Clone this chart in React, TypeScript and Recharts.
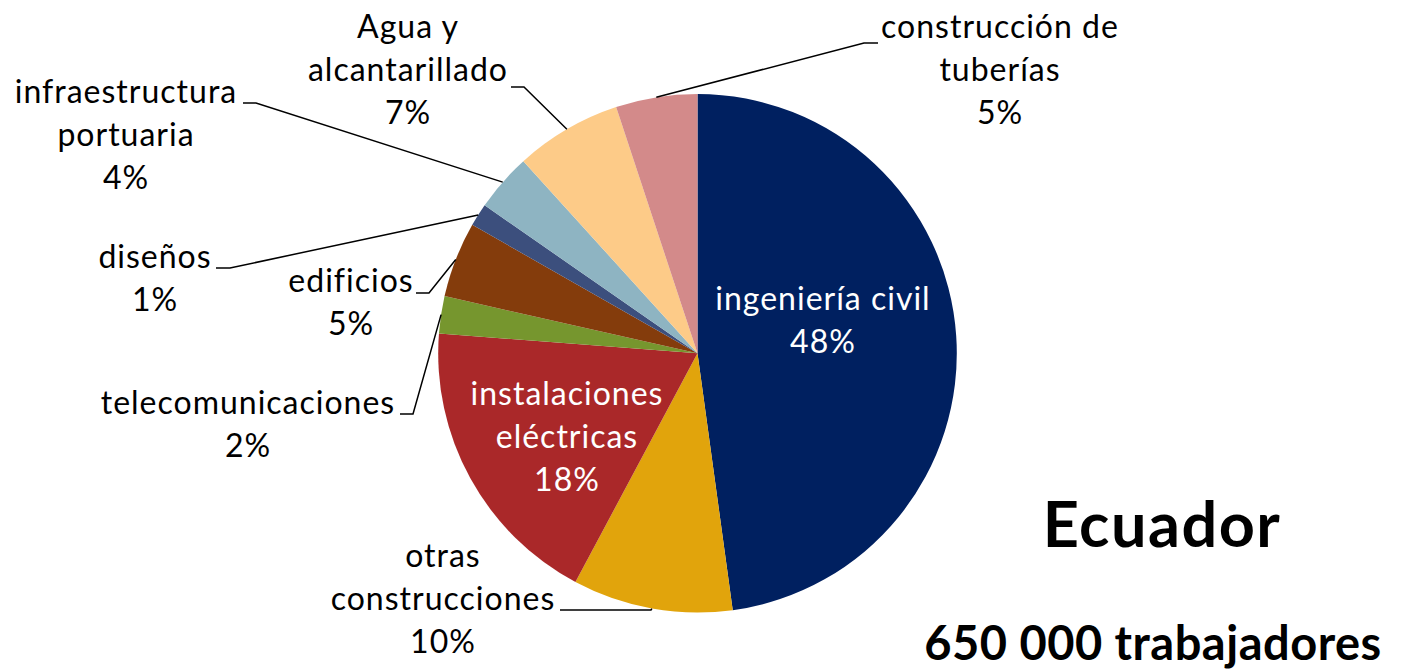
import { PieChart, Pie, Cell } from "recharts";

// sectors, clockwise from 12 o'clock
const sectors = [
  "ingeniería civil",
  "otras\nconstrucciones",
  "instalaciones\neléctricas",
  "telecomunicaciones",
  "edificios",
  "diseños",
  "infraestructura\nportuaria",
  "Agua y\nalcantarillado",
  "construcción de\ntuberías",
];
// share of workers, %
const shares = [47.83, 9.97, 18.42, 2.32, 4.71, 1.42, 3.61, 6.64, 5.08];
const colors = [
  "#002060",
  "#E1A40C",
  "#AA2829",
  "#76962E",
  "#843C0C",
  "#3C4F7D",
  "#8EB4C2",
  "#FDCB88",
  "#D38A8A",
];
const country = "Ecuador";
const workers = "650 000 trabajadores";

const data = sectors.map((name, i) => ({ name, value: shares[i] }));

// where each label sits (text centre, first baseline) and the leader elbow
type LabelPos = {
  x: number;
  y: number;
  inside?: boolean;
  elbow?: [number, number];
  end?: number;
};
const labelPos: LabelPos[] = [
  { x: 823, y: 310, inside: true },
  { x: 443, y: 567, elbow: [651, 610], end: 560 },
  { x: 567, y: 405, inside: true },
  { x: 248, y: 414, elbow: [413, 414], end: 400 },
  { x: 351, y: 292, elbow: [429, 293], end: 416 },
  { x: 155, y: 268, elbow: [230, 268], end: 216 },
  { x: 126, y: 103, elbow: [256, 103], end: 243 },
  { x: 408, y: 38, elbow: [524, 87], end: 511 },
  { x: 1000, y: 38, elbow: [864, 43], end: 878 },
];

const FONT = "Lato, 'Open Sans', sans-serif";
const LINE = 43;
const RADIAN = Math.PI / 180;

function renderLabel(props: any) {
  const { cx, cy, midAngle, outerRadius, index, value } = props;
  const pos = labelPos[index];
  const lines = [...sectors[index].split("\n"), `${Math.round(value)}%`];
  const fill = pos.inside ? "#ffffff" : "#000000";
  const ex = cx + outerRadius * Math.cos(-midAngle * RADIAN);
  const ey = cy + outerRadius * Math.sin(-midAngle * RADIAN);
  return (
    <g key={`lbl-${index}`}>
      {pos.elbow && (
        <polyline
          points={`${ex},${ey} ${pos.elbow[0]},${pos.elbow[1]} ${pos.end},${pos.elbow[1]}`}
          fill="none"
          stroke="#000"
          strokeWidth={1.5}
        />
      )}
      {lines.map((t, i) => (
        <text
          key={i}
          x={pos.x}
          y={pos.y + i * LINE}
          textAnchor="middle"
          fill={fill}
          fontFamily={FONT}
          fontSize={32}
          letterSpacing={1}
        >
          {t}
        </text>
      ))}
    </g>
  );
}

export default function App() {
  return (
    <div style={{ position: "absolute", left: 0, top: 0, width: 1403, height: 671, background: "#fff" }}>
      <PieChart width={1403} height={671} margin={{ top: 0, right: 0, bottom: 0, left: 0 }}>
        <Pie
          data={data}
          dataKey="value"
          nameKey="name"
          cx={697.5}
          cy={353.3}
          outerRadius={259.3}
          startAngle={90}
          endAngle={-270}
          stroke="none"
          label={renderLabel}
          labelLine={false}
          isAnimationActive={false}
        >
          {data.map((d, i) => (
            <Cell key={d.name} fill={colors[i]} />
          ))}
        </Pie>
        <text x={1162} y={547} textAnchor="middle" fontFamily={FONT} fontWeight={700} fontSize={63} letterSpacing={1.5} fill="#000">
          {country}
        </text>
        <text x={1153} y={660} textAnchor="middle" fontFamily={FONT} fontWeight={700} fontSize={47} letterSpacing={0.5} fill="#000">
          {workers}
        </text>
      </PieChart>
    </div>
  );
}
